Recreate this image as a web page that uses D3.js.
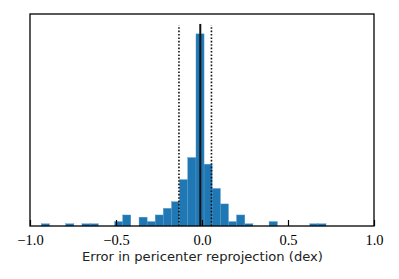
<!DOCTYPE html>
<html>
<head>
<meta charset="utf-8">
<script src="https://cdn.jsdelivr.net/npm/d3@7"></script>
<style>
  html, body { margin: 0; padding: 0; background: #fff; }
  svg { display: block; }
  .xt text { font-family: "Liberation Serif", "Times New Roman", serif; }
</style>
</head>
<body>
<svg id="chart" width="399" height="279"></svg>
<script>
// ---- data ----
const binEdges = [-0.934, -0.887, -0.839, -0.792, -0.745, -0.698, -0.650, -0.603, -0.556, -0.508,
                  -0.461, -0.414, -0.366, -0.319, -0.272, -0.225, -0.177, -0.130, -0.083, -0.035,
                   0.012,  0.059,  0.107,  0.154,  0.201,  0.249,  0.296,  0.343,  0.390,  0.438,
                   0.485,  0.532,  0.579,  0.627,  0.674,  0.721];
const counts = [1, 0, 0, 1, 0, 1, 1, 0, 0, 2,
                5, 0, 4, 2, 5, 8, 11, 21, 31, 87,
                28, 17, 10, 2, 5, 1, 0, 0, 2, 0,
                0, 0, 0, 1, 1];
const medianLine = -0.010;
const percentileLines = [-0.134, 0.055];
const xTicks = [-1.0, -0.5, 0.0, 0.5, 1.0];
const xTickLabels = ["\u22121.0", "\u22120.5", "0.0", "0.5", "1.0"];
const xLabel = "Error in pericenter reprojection (dex)";
const xDomain = [-1, 1];
const yMax = 96;
const solidTop = 91.5;
const dottedTop = 90.9;

// ---- layout ----
const svg = d3.select("#chart");
const L = 30, R = 374, T = 14, B = 226;
const x = d3.scaleLinear().domain(xDomain).range([L, R]);
const y = d3.scaleLinear().domain([0, yMax]).range([B, T]);

const bins = counts.map((c, i) => ({x0: binEdges[i], x1: binEdges[i + 1], c}));

svg.append("g").selectAll("rect").data(bins.filter(d => d.c > 0)).join("rect")
  .attr("x", d => x(d.x0))
  .attr("width", d => x(d.x1) - x(d.x0))
  .attr("y", d => y(d.c))
  .attr("height", d => y(0) - y(d.c))
  .attr("fill", "#1f77b4")
  .attr("stroke", "#5a9bcc")
  .attr("stroke-width", 0.4);

// vertical lines
svg.append("g").selectAll("line").data(percentileLines).join("line")
  .attr("x1", d => x(d)).attr("x2", d => x(d))
  .attr("y1", y(0)).attr("y2", y(dottedTop))
  .attr("stroke", "#111")
  .attr("stroke-width", 1.6)
  .attr("stroke-dasharray", "1.6,1.8");

svg.append("line")
  .attr("x1", x(medianLine)).attr("x2", x(medianLine))
  .attr("y1", y(0)).attr("y2", y(solidTop))
  .attr("stroke", "#111")
  .attr("stroke-width", 2);

// x axis (ticks inward)
const xAxis = d3.axisBottom(x).tickValues(xTicks)
  .tickFormat((d, i) => xTickLabels[i])
  .tickSizeInner(-6).tickSizeOuter(0).tickPadding(9);
const gx = svg.append("g").attr("class", "xt")
  .attr("transform", `translate(0,${B})`).call(xAxis)
  .attr("font-family", "Liberation Serif")
  .attr("font-size", 14.5);
gx.select(".domain").remove();
gx.selectAll(".tick line").attr("stroke", "#000").attr("stroke-width", 1.2);
gx.selectAll(".tick text").attr("fill", "#000");

// frame
svg.append("rect")
  .attr("x", L).attr("y", T).attr("width", R - L).attr("height", B - T)
  .attr("fill", "none").attr("stroke", "#000").attr("stroke-width", 1.3);

// x label
const lab = svg.append("text")
  .attr("x", (L + R) / 2 + 0.5)
  .attr("y", 261)
  .attr("text-anchor", "middle")
  .style("font-family", "'DejaVu Sans', sans-serif")
  .attr("font-size", 14)
  .attr("fill", "#222")
  .text(xLabel);
// fit label width to the reference (~241px)
const w = lab.node().getComputedTextLength();
lab.attr("font-size", 14 * 241 / w);
</script>
</body>
</html>
